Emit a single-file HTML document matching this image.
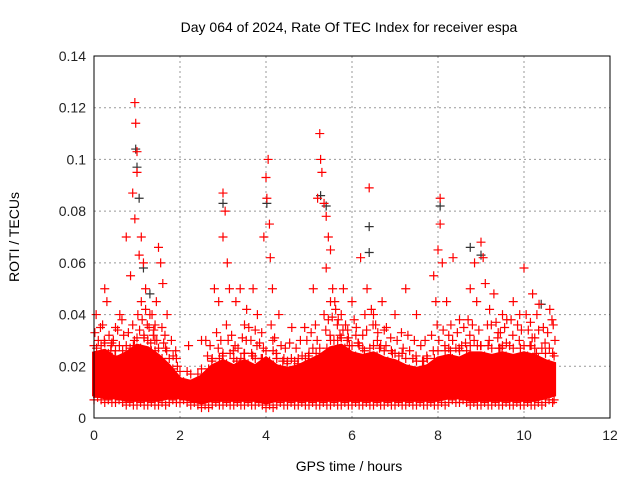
<!DOCTYPE html>
<html><head><meta charset="utf-8"><style>
body{margin:0;background:#fff;}
svg{display:block;font-family:"Liberation Sans",sans-serif;}
</style></head><body>
<svg id="chart" width="640" height="480">
<text x="349" y="32" font-size="14" text-anchor="middle">Day 064 of 2024, Rate Of TEC Index for receiver espa</text>
<text x="349" y="471" font-size="14" text-anchor="middle">GPS time / hours</text>
<text transform="translate(19,237) rotate(-90)" font-size="14" text-anchor="middle">ROTI / TECUs</text>
<g id="grid"></g><g id="ticks"></g><g id="band"></g><g id="marks"></g>
<rect x="94" y="56" width="516" height="362" fill="none" stroke="#000" stroke-width="1"/>
</svg>
<script>
const xTicks=[0,2,4,6,8,10,12];
const yTicks=[0,0.02,0.04,0.06,0.08,0.1,0.12,0.14];
const yTickLabels=["0","0.02","0.04","0.06","0.08","0.1","0.12","0.14"];
const bandTimes=[0,0.25,0.5,0.75,1,1.25,1.5,1.75,2,2.25,2.5,2.75,3,3.25,3.5,3.75,4,4.25,4.5,4.75,5,5.25,5.5,5.75,6,6.25,6.5,6.75,7,7.25,7.5,7.75,8,8.25,8.5,8.75,9,9.25,9.5,9.75,10,10.25,10.5,10.7];
const bandHi=[0.028,0.029,0.026,0.028,0.031,0.030,0.027,0.023,0.018,0.017,0.019,0.023,0.025,0.023,0.025,0.023,0.026,0.023,0.022,0.023,0.025,0.027,0.030,0.031,0.028,0.027,0.028,0.026,0.025,0.023,0.022,0.023,0.026,0.027,0.026,0.028,0.028,0.027,0.028,0.027,0.028,0.027,0.025,0.024];
const bandLo=[0.008,0.007,0.007,0.006,0.006,0.006,0.006,0.007,0.007,0.006,0.005,0.006,0.006,0.006,0.006,0.006,0.005,0.006,0.006,0.006,0.006,0.006,0.006,0.006,0.006,0.006,0.006,0.006,0.006,0.006,0.006,0.006,0.006,0.007,0.007,0.006,0.006,0.006,0.006,0.006,0.006,0.006,0.007,0.008];
const midT=[0.02,0.1,0.2,0.35,0.45,0.55,0.65,0.8,0.9,1.02,1.12,1.2,1.28,1.35,1.42,1.58,1.65,1.8,1.9,2.6,2.7,2.85,2.95,3.08,3.2,3.28,3.45,3.5,3.65,3.75,3.85,3.9,4.12,4.2,4.35,4.45,4.55,4.7,4.8,4.95,5.05,5.15,5.35,5.45,5.5,5.62,5.68,5.75,5.85,5.9,6.05,6.1,6.25,6.3,6.45,6.55,6.6,6.75,6.9,7.05,7.15,7.3,7.45,7.6,7.7,7.85,7.98,8.12,8.25,8.3,8.45,8.6,8.7,8.8,8.95,9.15,9.2,9.35,9.45,9.55,9.7,9.85,9.9,10.1,10.15,10.3,10.45,10.55,10.68,0.4,1.38,3.35,5.58,6.15,8.55,9.4,10.25];
const midV=[0.033,0.03,0.036,0.032,0.03,0.034,0.038,0.033,0.036,0.04,0.038,0.042,0.035,0.04,0.036,0.035,0.032,0.03,0.026,0.03,0.028,0.033,0.03,0.036,0.032,0.028,0.031,0.036,0.03,0.034,0.029,0.033,0.036,0.031,0.028,0.027,0.029,0.027,0.03,0.03,0.033,0.036,0.04,0.038,0.045,0.042,0.038,0.04,0.036,0.034,0.038,0.035,0.032,0.04,0.042,0.036,0.033,0.034,0.031,0.03,0.033,0.032,0.03,0.028,0.03,0.032,0.036,0.034,0.032,0.036,0.033,0.035,0.038,0.036,0.034,0.036,0.042,0.037,0.033,0.035,0.038,0.036,0.04,0.034,0.037,0.04,0.035,0.033,0.036,0.028,0.032,0.027,0.03,0.029,0.028,0.033,0.031];
const redT=[0.25,0.3,0.05,0.15,0.6,0.75,0.85,0.9,0.95,0.97,1.0,1.0,0.95,1.05,1.1,1.15,1.2,1.1,1.3,1.5,1.55,1.6,1.45,1.7,2.5,2.8,2.9,3.0,3.05,3.0,3.1,3.15,3.3,3.4,3.55,3.7,3.8,3.95,4.0,4.05,4.02,4.08,4.1,4.15,4.3,4.6,4.9,5.1,5.2,5.25,5.27,5.3,5.35,5.4,5.45,5.5,5.4,5.55,5.6,5.8,6.0,6.2,6.35,6.4,6.5,6.7,7.0,7.25,7.5,7.9,7.95,8.05,8.05,8.0,8.1,8.2,8.35,8.5,8.75,8.85,8.9,9.0,9.05,9.1,9.3,9.5,9.75,10.0,10.05,10.2,10.35,10.6,10.65,0.5,2.2,3.6,6.8,9.6];
const redV=[0.05,0.045,0.04,0.035,0.04,0.07,0.055,0.087,0.122,0.114,0.103,0.095,0.077,0.063,0.07,0.06,0.05,0.045,0.04,0.066,0.06,0.052,0.045,0.04,0.03,0.05,0.045,0.087,0.08,0.07,0.06,0.05,0.045,0.05,0.042,0.05,0.04,0.07,0.093,0.1,0.085,0.075,0.062,0.05,0.04,0.035,0.035,0.05,0.085,0.11,0.1,0.095,0.083,0.078,0.07,0.065,0.058,0.05,0.045,0.05,0.045,0.062,0.05,0.089,0.04,0.045,0.04,0.05,0.04,0.055,0.045,0.085,0.075,0.065,0.06,0.045,0.062,0.038,0.05,0.06,0.045,0.068,0.062,0.052,0.048,0.04,0.045,0.058,0.04,0.048,0.044,0.042,0.038,0.035,0.028,0.035,0.035,0.038];
const blackT=[0.97,1.0,1.05,1.15,3.0,4.02,5.27,5.4,6.4,6.4,8.05,8.75,9.0,1.3,10.4];
const blackV=[0.104,0.097,0.085,0.058,0.083,0.083,0.086,0.082,0.074,0.064,0.082,0.066,0.063,0.048,0.044];
const X0=94,X1=610,Y0=418,Y1=56;
const xs=t=>X0+t/12*(X1-X0);
const ys=v=>Y0-v/0.14*(Y0-Y1);
const NS="http://www.w3.org/2000/svg";
function mk(tag,parent,attrs){const e=document.createElementNS(NS,tag);for(const k in attrs)e.setAttribute(k,attrs[k]);document.getElementById(parent).appendChild(e);return e;}
xTicks.forEach((t,i)=>{
  if(t>0&&t<12){const g=mk('line','grid',{x1:xs(t),x2:xs(t),y1:Y0,y2:Y1,stroke:'#999','stroke-dasharray':'2,3'});
  
  }
  const l=mk('text','ticks',{x:xs(t),y:Y0+22,'font-size':14,'text-anchor':'middle',fill:'#222'});
  l.textContent=t;
  
  
});
yTicks.forEach((v,i)=>{
  if(v>0&&v<0.14){const g=mk('line','grid',{x1:X0,x2:X1,y1:ys(v),y2:ys(v),stroke:'#999','stroke-dasharray':'2,3'});
  
  }
  const l=mk('text','ticks',{x:X0-8,y:ys(v)+5,'font-size':14,'text-anchor':'end',fill:'#222'});
  l.textContent=yTickLabels[i];
  
  
});
let pts=bandTimes.map((t,i)=>xs(t)+','+ys(bandHi[i]-0.003));
pts=pts.concat(bandTimes.map((t,i)=>xs(t)+','+ys(bandLo[i]+0.001)).reverse());
const band=mk('polygon','band',{points:pts.join(' '),fill:'#f00',stroke:'#f00','stroke-width':4});


function plus(t,v,c,name){
  const x=xs(t),y=ys(v);
  const p=mk('path','marks',{d:`M${x-4.5},${y}H${x+4.5}M${x},${y-4.5}V${y+4.5}`,stroke:c,'stroke-width':1.2,fill:'none'});
  
  
}
bandTimes.forEach((t,i)=>{
  for(let k=0;k<3;k++){
    const tt=t+k*0.083;
    if(tt>10.7)break;
    plus(tt,bandHi[i]-(k%2)*0.004,'#f00','roti-point-edge');
    plus(tt,bandLo[i]-0.001+(k%2)*0.001,'#f00','roti-point-edge');
  }
});
midT.forEach((t,i)=>{
  plus(t,midV[i],'#f00','roti-point-mid');
  plus(t+0.04,midV[i]-0.006,'#f00','roti-point-mid');
});
blackT.forEach((t,i)=>plus(t,blackV[i],'#333','roti-point-other'));
redT.forEach((t,i)=>plus(t,redV[i],'#f00','roti-point'));
</script>
</body></html>
